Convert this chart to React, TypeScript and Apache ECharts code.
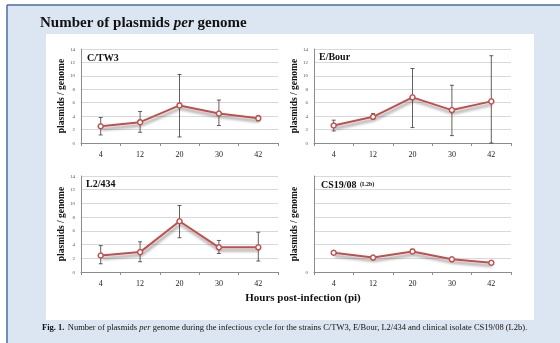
import React, { useEffect, useRef } from 'react';
import * as echarts from 'echarts';

const hours = ['4', '12', '20', '30', '42'];

const ctw3Mean = [2.5, 3.1, 5.6, 4.4, 3.7];
const ctw3Low = [1.2, 1.6, 0.9, 2.6, 3.3];
const ctw3High = [3.8, 4.7, 10.2, 6.4, 4.0];

const ebourMean = [2.6, 3.9, 6.8, 4.9, 6.2];
const ebourLow = [1.8, 3.6, 2.3, 1.1, 0];
const ebourHigh = [3.4, 4.4, 11.1, 8.6, 13.0];

const l2Mean = [2.4, 2.9, 7.4, 3.6, 3.6];
const l2Low = [1.2, 1.5, 5.0, 2.7, 1.6];
const l2High = [3.85, 4.4, 9.7, 4.6, 5.8];

const cs19Mean = [2.8, 2.1, 3.0, 1.85, 1.35];
const cs19Low = [2.7, 2.0, 2.8, 1.8, 1.3];
const cs19High = [2.9, 2.2, 3.3, 1.9, 1.4];

const yTicksShown = [true, true, true, false];

const panels = [
  { mean: ctw3Mean, low: ctw3Low, high: ctw3High },
  { mean: ebourMean, low: ebourLow, high: ebourHigh },
  { mean: l2Mean, low: l2Low, high: l2High },
  { mean: cs19Mean, low: cs19Low, high: cs19High },
];

const SERIF = '"Liberation Serif", "DejaVu Serif", serif';
const RED = '#c0504d';

export default function App() {
  const ref = useRef<HTMLDivElement>(null);
  useEffect(() => {
    const chart = echarts.init(ref.current!, null, { renderer: 'svg' });
    const grids = [
      { left: 81, top: 49, width: 197, height: 94 },
      { left: 314, top: 49, width: 197, height: 94 },
      { left: 81, top: 176, width: 197, height: 96 },
      { left: 314, top: 176, width: 197, height: 96 },
    ];
    const xAxis = grids.map((_, i) => ({
      type: 'category',
      gridIndex: i,
      data: hours,
      boundaryGap: true,
      axisLine: { lineStyle: { color: '#8c8c8c', width: 1 } },
      axisTick: { show: true, length: 3, lineStyle: { color: '#8c8c8c' } },
      axisLabel: { fontSize: 8, color: '#222', fontFamily: SERIF, margin: 7 },
    }));
    const yAxis = grids.map((_, i) => ({
      type: 'value',
      gridIndex: i,
      min: 0,
      max: 14,
      interval: 2,
      axisLine: { show: true, lineStyle: { color: '#8c8c8c', width: 1 } },
      axisTick: { show: false },
      axisLabel: {
        fontSize: 5,
        color: '#555',
        fontFamily: SERIF,
        margin: 6,
        formatter: (v: number) => (yTicksShown[i] || v === 0 ? String(v) : ''),
      },
      splitLine: { lineStyle: { color: '#d9d9d9', width: 1 } },
      name: 'plasmids / genome',
      nameLocation: 'middle',
      nameGap: 15,
      nameTextStyle: { fontSize: 9.5, fontWeight: 'bold', color: '#111', fontFamily: SERIF },
    }));
    const series: any[] = [];
    panels.forEach((p, i) => {
      series.push({
        type: 'custom',
        xAxisIndex: i,
        yAxisIndex: i,
        z: 1,
        data: hours.map((_, k) => [k, p.low[k], p.high[k]]),
        encode: { x: 0, y: [1, 2] },
        renderItem: (params: any, api: any) => {
          const x = api.value(0);
          const a = api.coord([x, api.value(1)]);
          const b = api.coord([x, api.value(2)]);
          const w = 2;
          const st = { stroke: '#3a3a3a', lineWidth: 0.8 };
          return {
            type: 'group',
            children: [
              { type: 'line', shape: { x1: a[0], y1: a[1], x2: b[0], y2: b[1] }, style: st },
              { type: 'line', shape: { x1: a[0] - w, y1: a[1], x2: a[0] + w, y2: a[1] }, style: st },
              { type: 'line', shape: { x1: b[0] - w, y1: b[1], x2: b[0] + w, y2: b[1] }, style: st },
            ],
          };
        },
      });
      series.push({
        type: 'line',
        xAxisIndex: i,
        yAxisIndex: i,
        z: 3,
        data: p.mean,
        symbol: 'circle',
        symbolSize: 5,
        lineStyle: {
          color: RED,
          width: 2,
          shadowColor: 'rgba(0,0,0,0.45)',
          shadowBlur: 3,
          shadowOffsetY: 3,
          shadowOffsetX: 1,
        },
        itemStyle: { color: '#fff', borderColor: RED, borderWidth: 1.5 },
      });
    });

    const panelTitle = (text: string, x: number, y: number) => ({
      type: 'text',
      x,
      y,
      z: 10,
      style: {
        text,
        fontSize: 10,
        fontWeight: 'bold',
        fontFamily: SERIF,
        fill: '#111',
        verticalAlign: 'middle',
      },
    });

    chart.setOption({
      animation: false,
      grid: grids,
      xAxis,
      yAxis,
      series,
      graphic: [
        { type: 'rect', z: -20, shape: { x: 0, y: 0, width: 560, height: 343 }, style: { fill: '#ffffff' } },
        { type: 'rect', z: -19, shape: { x: 7, y: 5, width: 553, height: 338 }, style: { fill: '#dce6f2' } },
        { type: 'line', z: -18, shape: { x1: 7, y1: 5, x2: 560, y2: 5 }, style: { stroke: '#4a6ea0', lineWidth: 1.5 } },
        { type: 'line', z: -18, shape: { x1: 7, y1: 5, x2: 7, y2: 343 }, style: { stroke: '#4a6ea0', lineWidth: 1.5 } },
        { type: 'rect', z: -17, shape: { x: 46, y: 34, width: 488, height: 286 }, style: { fill: '#ffffff' } },
        {
          type: 'text',
          x: 40,
          y: 22,
          z: 10,
          style: {
            text: '{b|Number of plasmids }{i|per}{b| genome}',
            verticalAlign: 'middle',
            rich: {
              b: { fontSize: 15, fontWeight: 'bold', fontFamily: SERIF, fill: '#111' },
              i: { fontSize: 15, fontWeight: 'bold', fontStyle: 'italic', fontFamily: SERIF, fill: '#111' },
            },
          },
        },
        panelTitle('C/TW3', 87, 57),
        panelTitle('E/Bour', 319, 56),
        panelTitle('L2/434', 86, 183),
        {
          type: 'text',
          x: 321,
          y: 184,
          z: 10,
          style: {
            text: '{a|CS19/08} {s|(L2b)}',
            verticalAlign: 'middle',
            rich: {
              a: { fontSize: 10, fontWeight: 'bold', fontFamily: SERIF, fill: '#111' },
              s: { fontSize: 6, fontWeight: 'bold', fontFamily: SERIF, fill: '#111' },
            },
          },
        },
        {
          type: 'text',
          x: 303,
          y: 297,
          z: 10,
          style: {
            text: 'Hours post-infection (pi)',
            fontSize: 11,
            fontWeight: 'bold',
            fontFamily: SERIF,
            fill: '#111',
            align: 'center',
            verticalAlign: 'middle',
          },
        },
        {
          type: 'text',
          x: 42,
          y: 327,
          z: 10,
          style: {
            text:
              '{b|Fig. 1.} {n|Number of plasmids }{i|per}{n| genome during the infectious cycle for the strains C/TW3, E/Bour, L2/434 and clinical isolate CS19/08 (L2b).}',
            verticalAlign: 'middle',
            rich: {
              b: { fontSize: 8.5, fontWeight: 'bold', fontFamily: SERIF, fill: '#111' },
              n: { fontSize: 8.5, fontFamily: SERIF, fill: '#111' },
              i: { fontSize: 8.5, fontStyle: 'italic', fontFamily: SERIF, fill: '#111' },
            },
          },
        },
      ],
    });
    return () => chart.dispose();
  }, []);
  return <div ref={ref} style={{ position: 'fixed', left: 0, top: 0, width: 560, height: 343 }} />;
}
